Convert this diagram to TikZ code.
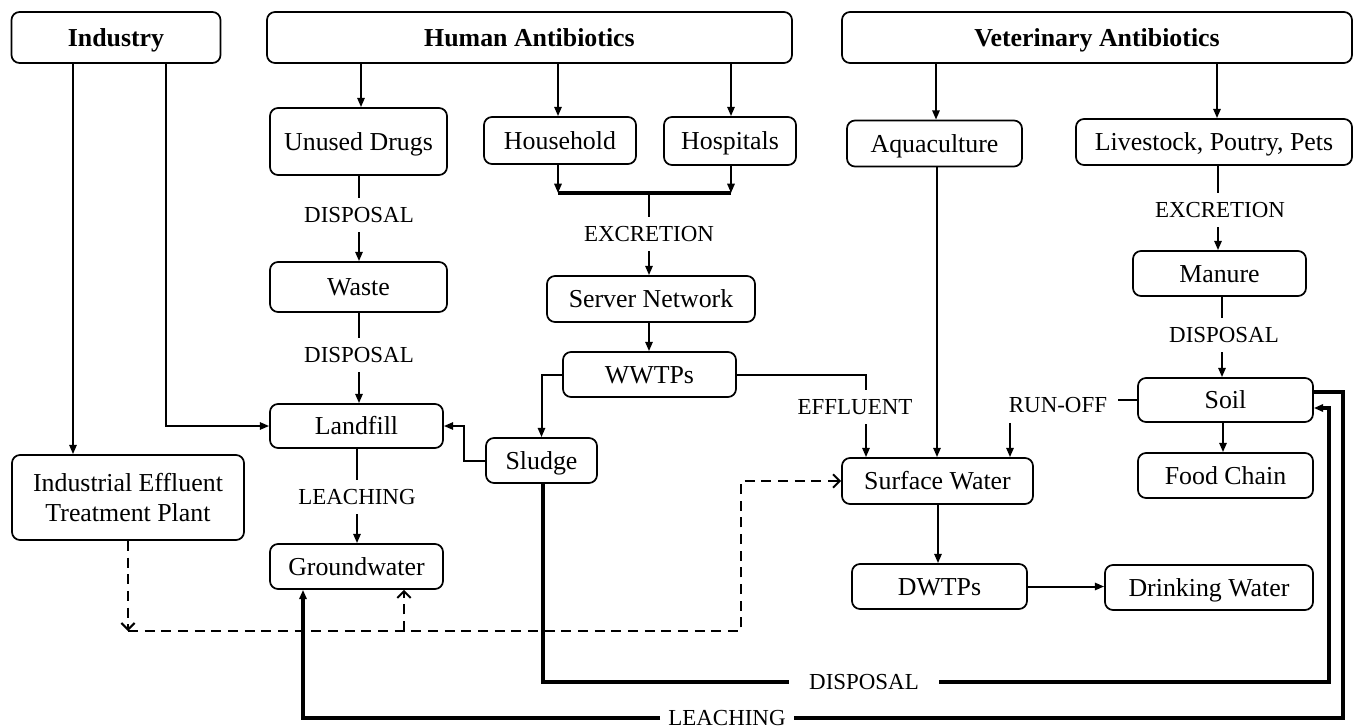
\documentclass[tikz,border=0pt]{standalone}
\usepackage{fontspec}
\setmainfont{Liberation Serif}
\usetikzlibrary{arrows.meta}
\begin{document}
\begin{tikzpicture}[x=0.75pt,y=-0.75pt,
  box/.style={draw, rounded corners=6pt, line width=1.3pt, font=\fontsize{19.4}{22.5}\selectfont, inner sep=0pt, align=center, text height=12.8pt, text depth=0pt},
  ttl/.style={box, font=\fontsize{19.4}{22.5}\selectfont\bfseries},
  sz/.style 2 args={minimum width=#1*0.75pt, minimum height=#2*0.75pt},
  lbl/.style={font=\fontsize{17.2}{20}\selectfont, inner xsep=6pt, inner ysep=7pt},
  ln/.style={line width=1.5pt},
  arr/.style={line width=1.5pt, -{Triangle[length=7pt,width=5.5pt]}},
  thk/.style={line width=2.6pt},
  dsh/.style={line width=1.6pt, dash pattern=on 7.5pt off 5pt},
  dtip/.style={-{Straight Barb[length=5pt,width=10pt,line width=1.5pt]}}
]
\useasboundingbox (0,0) rectangle (1354,728);
% title boxes
\node[ttl, sz={209}{51}] (ind) at (116,37.5) {Industry};
\node[ttl, sz={525}{51}] (hum) at (529.5,37.5) {Human Antibiotics};
\node[ttl, sz={510}{51}] (vet) at (1097,37.5) {Veterinary Antibiotics};
% boxes
\node[box, sz={177}{67}] (ud) at (358.5,141.5) {Unused Drugs};
\node[box, sz={152}{47}] (hh) at (560,140.5) {Household};
\node[box, sz={132}{48}] (hosp) at (730,141) {Hospitals};
\node[box, sz={175}{46}] (aqua) at (934.5,143.5) {Aquaculture};
\node[box, sz={276}{46}] (live) at (1214,142) {Livestock, Poutry, Pets};
\node[box, sz={177}{50}] (waste) at (358.5,287) {Waste};
\node[box, sz={208}{46}] (srv) at (651,299) {Server Network};
\node[box, sz={173}{45}] (manure) at (1219.5,273.5) {Manure};
\node[box, sz={173}{45}] (wwtp) at (649.5,374.5) {WWTPs};
\node[box, sz={173}{44}] (landfill) at (356.5,426) {Landfill};
\node[box, sz={111}{45}] (sludge) at (541.5,460.5) {Sludge};
\node[box, sz={175}{44}] (soil) at (1225.5,400) {Soil};
\node[box, sz={191}{46}] (sw) at (937.5,481) {Surface Water};
\node[box, sz={175}{45}] (food) at (1225.5,475.5) {Food Chain};
\node[box, sz={232}{85}, text height=, text depth=] (ietp) at (128,497.5) {Industrial Effluent\\Treatment Plant};
\node[box, sz={173}{45}] (gw) at (356.5,566.5) {Groundwater};
\node[box, sz={175}{45}] (dwtp) at (939.5,586.5) {DWTPs};
\node[box, sz={208}{45}] (dw) at (1209,587.5) {Drinking Water};
% labels
\node[lbl] (d1) at (359,215) {DISPOSAL};
\node[lbl] (d2) at (359,355) {DISPOSAL};
\node[lbl] (lch) at (357,497) {LEACHING};
\node[lbl] (exc) at (649,234) {EXCRETION};
\node[lbl] (exc2) at (1220,210) {EXCRETION};
\node[lbl] (d3) at (1224,335) {DISPOSAL};
\node[lbl] (effl) at (855,407) {EFFLUENT};
\node[lbl] (runoff) at (1058,405.5) {RUN-OFF};
\node[lbl, inner xsep=15pt] (dispB) at (864,682) {DISPOSAL};
\node[lbl, inner xsep=6pt] (leach) at (727,718) {LEACHING};
% industry
\draw[arr] (73,0 |- ind.south) -- (73,0 |- ietp.north);
\draw[arr] (166,0 |- ind.south) |- (landfill.west);
% human
\draw[arr] (361,0 |- hum.south) -- (361,0 |- ud.north);
\draw[arr] (558,0 |- hum.south) -- (558,0 |- hh.north);
\draw[arr] (731,0 |- hum.south) -- (731,0 |- hosp.north);
\coordinate (barL) at (558,193);
\coordinate (barR) at (731,193);
\draw[arr] (558,0 |- hh.south) -- (barL);
\draw[arr] (731,0 |- hosp.south) -- (barR);
\draw[thk] (barL) -- (barR);
\draw[ln] (649,193) -- (649,0 |- exc.north);
\draw[arr] (649,0 |- exc.south) -- (649,0 |- srv.north);
\draw[arr] (649,0 |- srv.south) -- (649,0 |- wwtp.north);
\draw[arr] (wwtp.west) -| (sludge.north);
\draw[arr] (sludge.west) -- (464,0 |- sludge.west) |- (landfill.east);
\draw[ln] (359,0 |- ud.south) -- (d1.north);
\draw[arr] (d1.south) -- (359,0 |- waste.north);
\draw[ln] (359,0 |- waste.south) -- (d2.north);
\draw[arr] (d2.south) -- (359,0 |- landfill.north);
\draw[ln] (357,0 |- landfill.south) -- (lch.north);
\draw[arr] (lch.south) -- (357,0 |- gw.north);
% effluent
\draw[ln] (wwtp.east) -| (866,0 |- effl.north);
\draw[arr] (866,0 |- effl.south) -- (866,0 |- sw.north);
% veterinary
\draw[arr] (936,0 |- vet.south) -- (936,0 |- aqua.north);
\draw[arr] (1217,0 |- vet.south) -- (1217,0 |- live.north);
\draw[arr] (937,0 |- aqua.south) -- (937,0 |- sw.north);
\draw[ln] (1218,0 |- live.south) -- (1218,0 |- exc2.north);
\draw[arr] (1218,0 |- exc2.south) -- (1218,0 |- manure.north);
\draw[ln] (1222,0 |- manure.south) -- (1222,0 |- d3.north);
\draw[arr] (1222,0 |- d3.south) -- (1222,0 |- soil.north);
\draw[arr] (1223,0 |- soil.south) -- (1223,0 |- food.north);
\draw[ln] (soil.west) -- (1118,0 |- soil.west);
\draw[arr] (1010,0 |- runoff.south) -- (1010,0 |- sw.north);
\draw[arr] (938,0 |- sw.south) -- (938,0 |- dwtp.north);
\draw[arr] (dwtp.east) -- (dwtp.east -| dw.west);
% sludge disposal to soil
\draw[thk] (543,0 |- sludge.south) |- (dispB.west);
\draw[thk, -{Triangle[length=7pt,width=5.5pt]}] (dispB.east) -| (1329,408) -- (soil.east |- 0,408);
% leaching soil to groundwater
\draw[thk] (soil.east |- 0,392) -| (1343,718) -- (leach.east);
\draw[thk, -{Triangle[length=7pt,width=5.5pt]}] (leach.west) -| (303,0 |- gw.south);
% dashed
\coordinate (dj) at (128,631);
\draw[dsh, dtip] (ietp.south) -- (dj);
\draw[dsh, dtip] (dj) -- (741,631) |- (sw.west);
\draw[dsh, dtip] (404,631) -- (404,0 |- gw.south);
\end{tikzpicture}
\end{document}
